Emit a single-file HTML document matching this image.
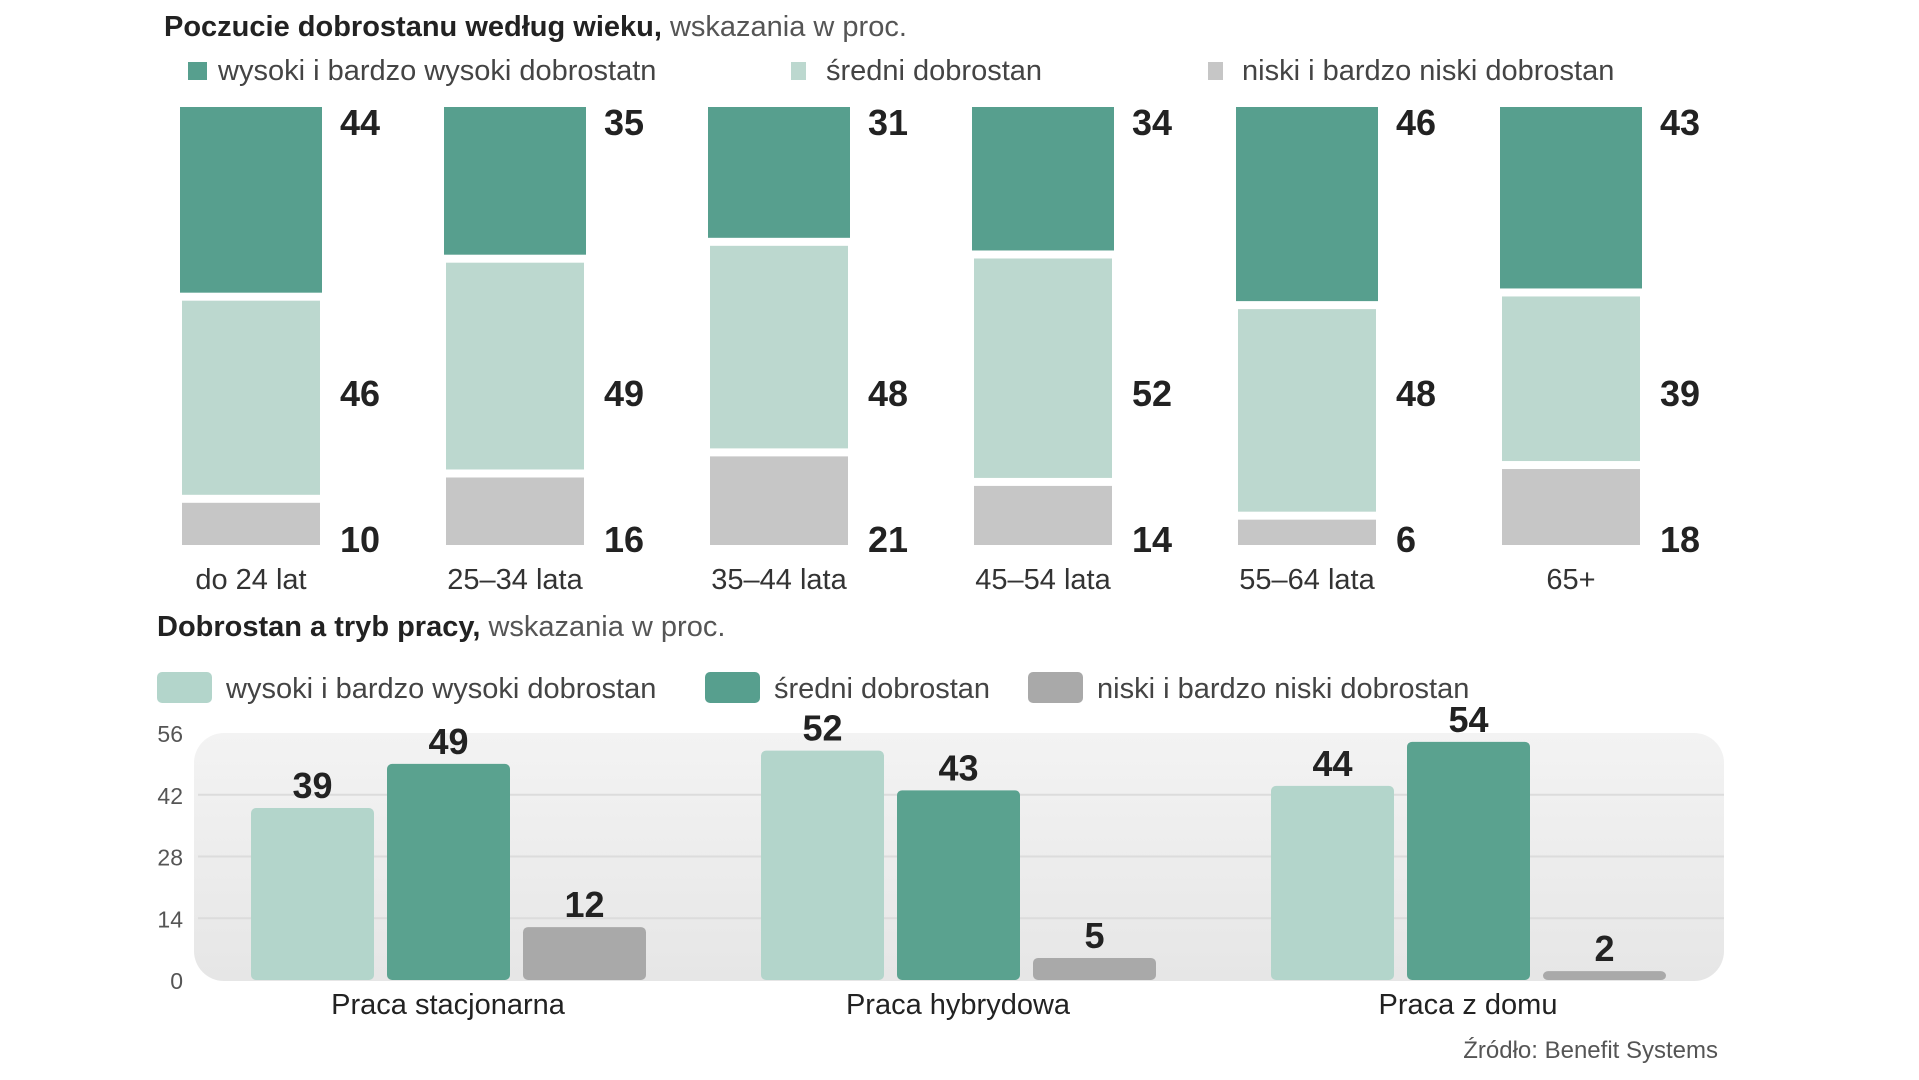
<!DOCTYPE html>
<html><head><meta charset="utf-8"><style>
html,body{margin:0;padding:0;background:#fff;}
svg{display:block;font-family:"Liberation Sans Narrow","Liberation Sans",sans-serif;}
</style></head><body>
<svg id="c" width="1919" height="1080" viewBox="0 0 1919 1080">
<defs>
<linearGradient id="pg" x1="0" y1="0" x2="0" y2="1"><stop offset="0" stop-color="#f3f3f3"/><stop offset="1" stop-color="#e6e6e6"/></linearGradient>
</defs>
<text x="164" y="36" font-size="29" fill="#222"><tspan font-weight="bold">Poczucie dobrostanu według wieku,</tspan><tspan fill="#555"> wskazania w proc.</tspan></text>
<g>
<rect x="188" y="62" width="19" height="18" fill="#579f8e"/>
<text x="218" y="80" font-size="29" fill="#444">wysoki i bardzo wysoki dobrostatn</text>
<rect x="791" y="62" width="15" height="18" fill="#bcd8cf"/>
<text x="826" y="80" font-size="29" fill="#444">średni dobrostan</text>
<rect x="1208" y="62" width="15" height="18" fill="#c6c6c6"/>
<text x="1242" y="80" font-size="29" fill="#444">niski i bardzo niski dobrostan</text>
</g>
<g id="topg"></g>
<text x="157" y="636" font-size="29" fill="#222"><tspan font-weight="bold">Dobrostan a tryb pracy,</tspan><tspan fill="#555"> wskazania w proc.</tspan></text>
<g>
<rect x="157" y="672" width="55" height="31" rx="5" fill="#b3d5cb"/>
<text x="226" y="698" font-size="29" fill="#444">wysoki i bardzo wysoki dobrostan</text>
<rect x="705" y="672" width="55" height="31" rx="5" fill="#579f8e"/>
<text x="774" y="698" font-size="29" fill="#444">średni dobrostan</text>
<rect x="1028" y="672" width="55" height="31" rx="5" fill="#a9a9a9"/>
<text x="1097" y="698" font-size="29" fill="#444">niski i bardzo niski dobrostan</text>
</g>
<rect x="194" y="733" width="1530" height="248" rx="30" fill="url(#pg)"/>
<g id="botg"></g>
<text x="1718" y="1058" font-size="24" fill="#555" text-anchor="end">Źródło: Benefit Systems</text>
</svg>
<script>
const NS="http://www.w3.org/2000/svg";
const ageCats=["do 24 lat","25–34 lata","35–44 lata","45–54 lata","55–64 lata","65+"];
const ageHigh=[44,35,31,34,46,43];
const ageMid=[46,49,48,52,48,39];
const ageLow=[10,16,21,14,6,18];
const modeCats=["Praca stacjonarna","Praca hybrydowa","Praca z domu"];
const modeHigh=[39,52,44];
const modeMid=[49,43,54];
const modeLow=[12,5,2];
const yTicks=[0,14,28,42,56];

function mk(tag,attrs,parent,text){const e=document.createElementNS(NS,tag);for(const k in attrs)e.setAttribute(k,attrs[k]);if(text!==undefined)e.textContent=String(text);parent.appendChild(e);return e;}

const topG=document.getElementById('topg');
const tTop=107,tBot=545,gap=8;
const unit=(tBot-tTop-2*gap)/100;
const tx=i=>180+i*264;
ageCats.forEach((c,i)=>{
  const x=tx(i),w=142;
  const hH=ageHigh[i]*unit,hM=ageMid[i]*unit,hL=ageLow[i]*unit;
  let r=mk('rect',{x:x,y:tTop,width:w,height:hH,fill:'#579f8e'},topG);
  
  
  r=mk('rect',{x:x+2,y:tTop+hH+gap,width:w-4,height:hM,fill:'#bcd8cf'},topG);
  
  
  r=mk('rect',{x:x+2,y:tTop+hH+hM+2*gap,width:w-4,height:hL,fill:'#c6c6c6'},topG);
  
  
  const lx=x+160;
  let t=mk('text',{x:lx,y:135,'font-size':36,'font-weight':'bold',fill:'#222'},topG,ageHigh[i]);
  
  
  t=mk('text',{x:lx,y:406,'font-size':36,'font-weight':'bold',fill:'#222'},topG,ageMid[i]);
  
  
  t=mk('text',{x:lx,y:552,'font-size':36,'font-weight':'bold',fill:'#222'},topG,ageLow[i]);
  
  
  t=mk('text',{x:x+71,y:589,'font-size':29,fill:'#333','text-anchor':'middle'},topG,c);
  
  
});

const botG=document.getElementById('botg');
const y0=980,y56=733;
const ys=v=>y0-(v/56)*(y0-y56);
yTicks.forEach(v=>{
  if(v>0&&v<56){const l=mk('line',{x1:198,x2:1724,y1:ys(v),y2:ys(v),stroke:'#dcdcdc','stroke-width':2},botG);
  
  }
  const t=mk('text',{x:183,y:ys(v)+9,'font-size':23,fill:'#555','text-anchor':'end'},botG,v);
  
  
});
const series=[[modeHigh,'#b3d5cb','high'],[modeMid,'#5aa28f','mid'],[modeLow,'#a9a9a9','low']];
modeCats.forEach((c,g)=>{
  const gx=251+g*510;
  series.forEach((s,k)=>{
    const v=s[0][g],x=gx+k*136,w=123;
    const r=mk('rect',{x:x,y:ys(v),width:w,height:y0-ys(v),rx:5,fill:s[1]},botG);
    
    
    const t=mk('text',{x:x+w/2,y:ys(v)-10,'font-size':36,'font-weight':'bold',fill:'#222','text-anchor':'middle'},botG,v);
    
    
  });
  const t=mk('text',{x:gx+197,y:1014,'font-size':29,fill:'#222','text-anchor':'middle'},botG,c);
  
  
});
</script>
</body></html>
